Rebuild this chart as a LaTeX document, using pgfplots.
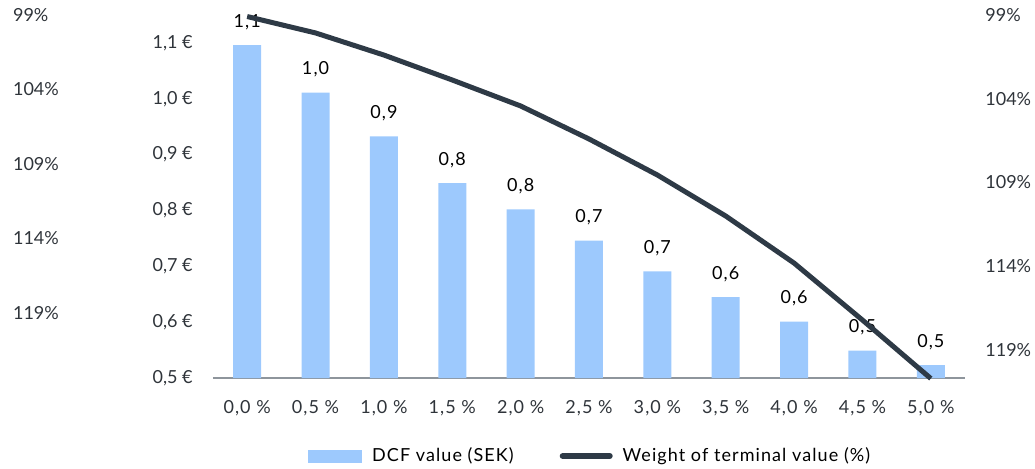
\documentclass[border=0pt]{standalone}
\usepackage{fontspec}
\setmainfont{Lato}
\newfontfamily\spaced{Lato}[LetterSpace=6]
\usepackage{pgfplots}
\pgfplotsset{compat=1.18}

\definecolor{barblue}{HTML}{9DC9FD}
\definecolor{slate}{HTML}{2E3A46}
\definecolor{axisgray}{HTML}{8E959C}
\definecolor{ticktext}{HTML}{2F343A}

% DCF value per terminal growth rate (bars, left axis)
\pgfplotstableread{
x  dcf
0  1.096
1  1.011
2  0.933
3  0.849
4  0.802
5  0.746
6  0.691
7  0.645
8  0.601
9  0.549
10 0.523
}\dcftable

% weight of terminal value in % (line, right axis, reversed)
\pgfplotstableread{
x  tv
0  99.09
1  100.07
2  101.39
3  102.88
4  104.43
5  106.40
6  108.55
7  111.00
8  113.81
9  117.21
10 120.70
}\tvtable

\pgfplotsset{
  frame/.style={
    width=376pt, height=186.5pt, scale only axis,
    at={(0,0)}, anchor=south west,
    xmin=-0.5, xmax=10.5,
    /pgf/number format/assume math mode=true,
    font=\fontsize{9}{11}\selectfont,
    tick style={draw=none}, major tick length=0pt,
  },
}

\begin{document}
\begin{tikzpicture}
\path[use as bounding box] (-106.5pt,-45pt) rectangle (411pt,189pt);

% bars
\begin{axis}[frame,
  ymin=0.5, ymax=1.1681,
  axis lines*=left,
  y axis line style={draw=none},
  x axis line style={draw=axisgray, line width=1pt},
  ybar, bar width=14pt,
  xtick={0,1,2,3,4,5,6,7,8,9,10},
  xticklabels={{0,0 \%},{0,5 \%},{1,0 \%},{1,5 \%},{2,0 \%},{2,5 \%},{3,0 \%},{3,5 \%},{4,0 \%},{4,5 \%},{5,0 \%}},
  xticklabel style={anchor=base, inner sep=0pt, yshift=-17.6pt, text=ticktext,
    font=\spaced\fontsize{9}{11}\selectfont},
  ytick={0.5,0.6,0.7,0.8,0.9,1.0,1.1},
  yticklabels={{0,5 €},{0,6 €},{0,7 €},{0,8 €},{0,9 €},{1,0 €},{1,1 €}},
  yticklabel style={anchor=east, inner sep=0pt, xshift=-10pt, text=ticktext},
  nodes near coords={\pgfmathprintnumber[fixed,fixed zerofill,precision=1,use comma]{\pgfplotspointmeta}},
  nodes near coords style={anchor=base, inner sep=0pt, yshift=8.9pt, text=black,
    font=\spaced\fontsize{9}{11}\selectfont},
]
\addplot[fill=barblue, draw=none] table[x=x, y=dcf] {\dcftable};
\end{axis}

% weight of terminal value, right-hand scale
\begin{axis}[frame,
  ymin=98.403, ymax=120.67, y dir=reverse,
  axis x line=none,
  axis y line*=right,
  y axis line style={draw=none},
  ytick={99,104,109,114,119},
  yticklabels={99\%,104\%,109\%,114\%,119\%},
  yticklabel style={anchor=west, inner sep=0pt, xshift=10pt, text=ticktext},
  clip=false,
  legend columns=2,
  legend style={at={(0.503,-0.2091)}, anchor=center, draw=none, fill=none,
    font=\spaced\fontsize{9}{11}\selectfont, column sep=3pt,
    /tikz/every even column/.append style={column sep=21pt}},
]
\addlegendimage{legend image code/.code={\fill[barblue] (0pt,-3pt) rectangle (26.5pt,3pt);}}
\addlegendentry{DCF value (SEK)}
\addplot[slate, line width=2.5pt, line join=round,
  legend image code/.code={\draw[slate, line width=3pt, line cap=round] (1.5pt,0pt) -- (25pt,0pt);}]
  table[x=x, y=tv] {\tvtable};
\addlegendentry{Weight of terminal value (\%)}
\end{axis}

% weight of terminal value, left-hand scale
\begin{axis}[frame,
  ymin=98.329, ymax=123.36, y dir=reverse,
  axis x line=none,
  axis y line*=left,
  y axis line style={draw=none},
  ytick={99,104,109,114,119},
  yticklabels={99\%,104\%,109\%,114\%,119\%},
  yticklabel style={anchor=west, inner sep=0pt, xshift=-100.15pt, text=ticktext},
]
\addplot[draw=none] coordinates {(0,99)};
\end{axis}
\end{tikzpicture}
\end{document}
